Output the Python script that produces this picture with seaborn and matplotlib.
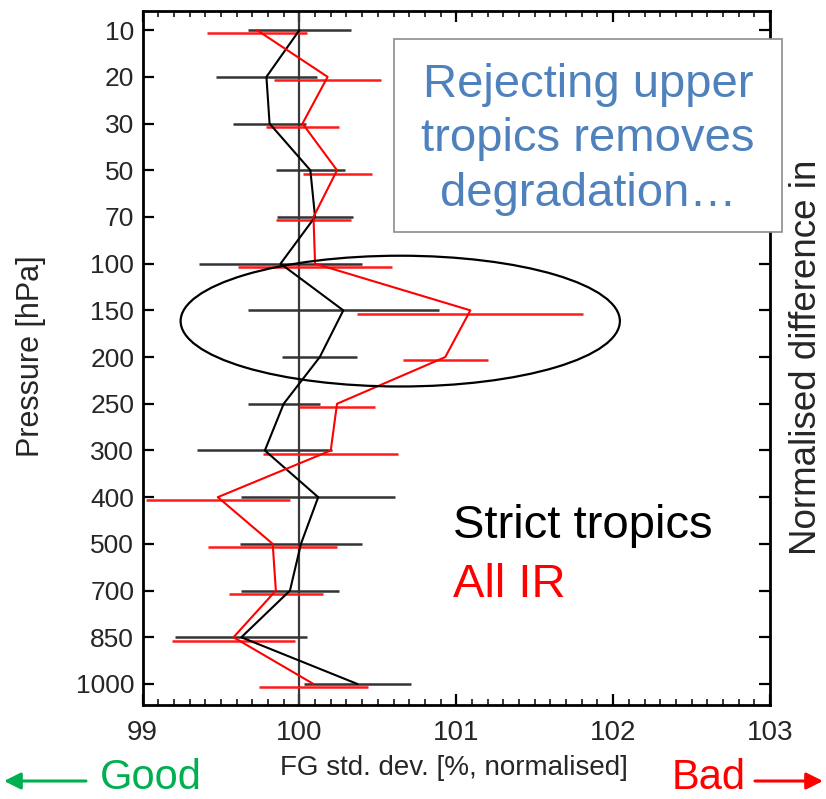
import numpy as np
import pandas as pd
import matplotlib
matplotlib.use("Agg")
import matplotlib.pyplot as plt
import seaborn as sns
from matplotlib.patches import Ellipse, Rectangle
from matplotlib.ticker import MultipleLocator, FixedLocator

# ---------------- data ----------------
levels = [10, 20, 30, 50, 70, 100, 150, 200, 250, 300, 400, 500, 700, 850, 1000]
strict_vals = [100.00, 99.79, 99.81, 100.07, 100.10, 99.88, 100.28, 100.13, 99.90, 99.78,
               100.12, 100.01, 99.94, 99.63, 100.37]
strict_err = [0.33, 0.32, 0.23, 0.22, 0.24, 0.52, 0.61, 0.24, 0.23, 0.43,
              0.49, 0.39, 0.31, 0.42, 0.34]
allir_vals = [99.73, 100.18, 100.02, 100.24, 100.09, 100.10, 101.09, 100.93, 100.24, 100.20,
              99.48, 99.83, 99.85, 99.58, 100.09]
allir_err = [0.32, 0.34, 0.23, 0.22, 0.24, 0.49, 0.72, 0.27, 0.24, 0.43,
             0.46, 0.41, 0.30, 0.39, 0.35]
series_names = ["Strict tropics", "All IR"]
series_colors = ["black", "red"]
x_ticks = [99, 100, 101, 102, 103]

# ---------------- style ----------------
sns.set_style("ticks")
plt.rcParams["font.family"] = ["Liberation Sans", "DejaVu Sans"]

W, H = 826, 799
fig = plt.figure(figsize=(W / 100, H / 100), dpi=100)
ax = fig.add_axes([142.5 / W, 1 - 705 / H, (770 - 142.5) / W, (705 - 11) / H])

idx = np.arange(len(levels))
df = pd.DataFrame({
    "level_idx": np.concatenate([idx, idx]),
    "value": strict_vals + allir_vals,
    "err": strict_err + allir_err,
    "series": [series_names[0]] * len(levels) + [series_names[1]] * len(levels),
})

ax.axvline(100, color="#3a3a3a", lw=1.6, zorder=1)

palette = dict(zip(series_names, series_colors))
sns.lineplot(data=df, x="value", y="level_idx", hue="series", palette=palette,
             sort=False, estimator=None, orient="y", lw=1.5, legend=False, ax=ax, zorder=3)

bar_colors = {"Strict tropics": "#333333", "All IR": "#ff1a1a"}
bar_offset = {"Strict tropics": 0.0, "All IR": 0.07}
for name in series_names:
    sub = df[df["series"] == name]
    ax.hlines(sub["level_idx"] + bar_offset[name], sub["value"] - sub["err"],
              sub["value"] + sub["err"], colors=bar_colors[name], lw=1.8, zorder=2)

# highlight ellipse
ax.add_patch(Ellipse((100.643, 6.23), width=2.80, height=2.80, fill=False,
                     ec="black", lw=1.6, zorder=4))

# axes
ax.set_xlim(99, 103)
ax.set_ylim(14.45, -0.41)
ax.xaxis.set_major_locator(FixedLocator(x_ticks))
ax.set_xticklabels([str(v) for v in x_ticks])
ax.xaxis.set_minor_locator(MultipleLocator(0.1))
ax.set_yticks(idx)
ax.set_yticklabels([str(v) for v in levels])
for s in ax.spines.values():
    s.set_visible(True)
    s.set_linewidth(2.0)
    s.set_color("black")
ax.tick_params(axis="both", which="major", direction="in", length=8, width=1.6,
               top=True, right=True, labelsize=19, color="black")
ax.tick_params(axis="x", which="minor", direction="in", length=4.5, width=1.3,
               top=True, bottom=True)
ax.tick_params(axis="y", which="major", pad=6)
ax.tick_params(axis="x", which="major", pad=11, labelsize=20)

ax.set_xlabel("FG std. dev. [%, normalised]", fontsize=20)
ax.xaxis.set_label_coords(0.4964, -0.072)
ax.set_ylabel("Pressure [hPa]", fontsize=22)
ax.yaxis.set_label_coords(-0.153, 0.503)

# annotation box
ax.add_patch(Rectangle((0.4008, 0.6816), 0.6179, 0.2781, transform=ax.transAxes,
                       fc="white", ec="#8c8c8c", lw=1.2, clip_on=False, zorder=5))
ax.text(0.7097, 0.815, "Rejecting upper\ntropics removes\ndegradation\u2026",
        transform=ax.transAxes, ha="center", va="center", fontsize=34,
        color="#4F81BD", linespacing=1.31, zorder=6)

ax.text(0.4948, 0.2406, "Strict tropics", transform=ax.transAxes, fontsize=34,
        color="black", va="baseline", ha="left")
ax.text(0.4948, 0.156, "All IR", transform=ax.transAxes, fontsize=34,
        color="red", va="baseline", ha="left")

fig.text(807 / W, 1 - 357 / H, "Normalised difference in", rotation=90,
         ha="center", va="center", fontsize=26.5)

fig.text(100 / W, 0.6 / H, "Good", color="#00B050", fontsize=30,
         ha="left", va="bottom")
fig.text(672 / W, 0.6 / H, "Bad", color="red", fontsize=30,
         ha="left", va="bottom")
ax.annotate("", xy=(4 / W, 1 - 781 / H), xycoords="figure fraction",
            xytext=(86 / W, 1 - 781 / H), textcoords="figure fraction",
            arrowprops=dict(arrowstyle="-|>,head_length=0.5,head_width=0.25",
                            mutation_scale=20, color="#00B050", lw=2.2,
                            shrinkA=0, shrinkB=0))
ax.annotate("", xy=(823 / W, 1 - 781 / H), xycoords="figure fraction",
            xytext=(755 / W, 1 - 781 / H), textcoords="figure fraction",
            arrowprops=dict(arrowstyle="-|>,head_length=0.5,head_width=0.25",
                            mutation_scale=20, color="red", lw=2.2,
                            shrinkA=0, shrinkB=0))

fig.savefig("out.png", dpi=100)
